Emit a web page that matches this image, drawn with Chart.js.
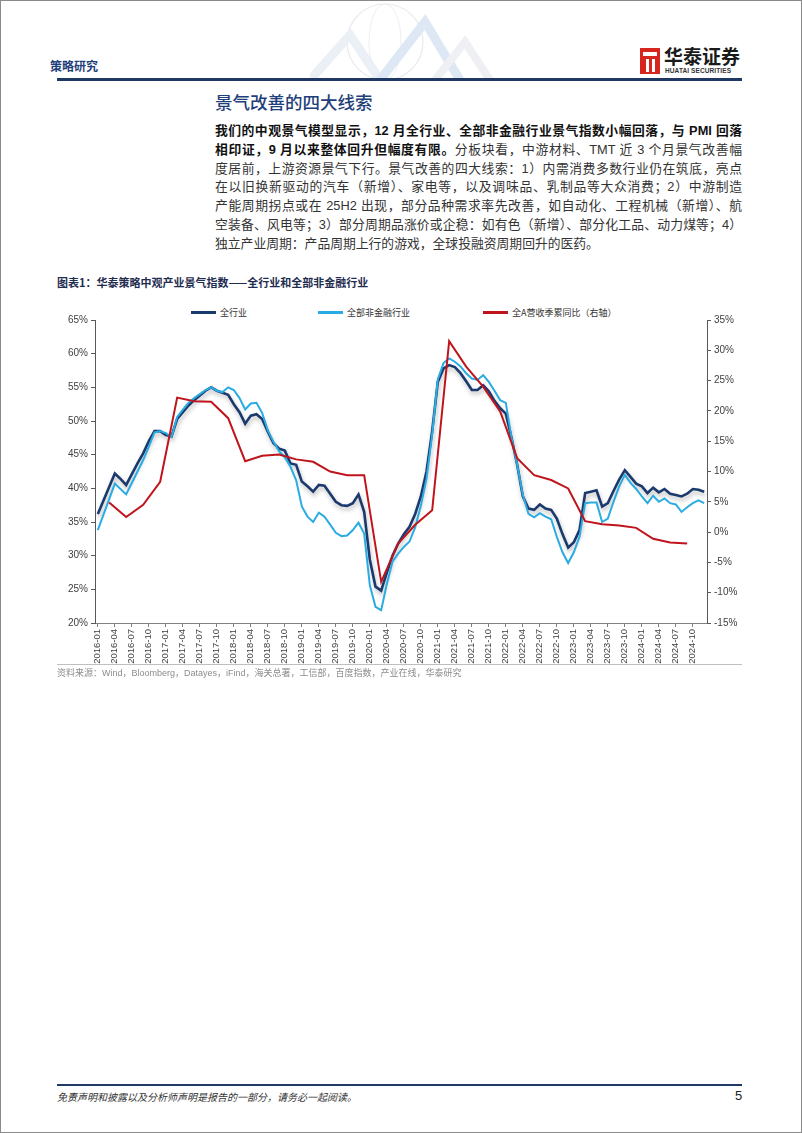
<!DOCTYPE html>
<html>
<head>
<meta charset="utf-8">
<script src="https://cdn.jsdelivr.net/npm/chart.js@4"></script>
<style>
    html, body { margin: 0; padding: 0; background: #fff; }
    body { width: 802px; height: 1133px; position: relative; overflow: hidden; font-family: "Liberation Sans", "Noto Sans CJK SC", sans-serif; }
    .frame { position: absolute; left: 0; top: 0; width: 800px; height: 1131px; border: 1px solid #8a8a8a; }
    .abs { position: absolute; white-space: nowrap; }
    .para { position: absolute; left: 215px; top: 122px; width: 527px; font-size: 12.8px; color: #333; }
    .para div { height: 18.8px; line-height: 18.8px; text-align: justify; text-align-last: justify; white-space: nowrap; }
    .para div.last { text-align-last: left; }
    .para b { color: #111; font-weight: 700; }
    .lg { position: absolute; top: 308px; font-size: 9px; color: #333; line-height: 10px; white-space: nowrap; font-family: "Noto Sans CJK SC", sans-serif; }
    .lg i { display: inline-block; width: 25px; height: 3px; vertical-align: middle; margin-right: 4px; position: relative; top: -1px; }
</style>
</head>
<body>
<div class="frame"></div>

<!-- header -->
<svg class="abs" style="left:310px;top:0px" width="190" height="80" opacity="0.7">
    <circle cx="75" cy="42" r="38" fill="none" stroke="#dde1e8" stroke-width="1.2"/>
    <ellipse cx="75" cy="42" rx="16" ry="38" fill="none" stroke="#e6e9ef" stroke-width="1"/>
    <polyline points="0,80 40,35 70,80" fill="none" stroke="#e3eaf3" stroke-width="9"/>
    <polyline points="70,80 115,22 150,80" fill="none" stroke="#cfdff0" stroke-width="9"/>
    <polyline points="125,80 155,42 180,80" fill="none" stroke="#e8ebf0" stroke-width="8"/>
</svg>
<div class="abs" style="left:50px;top:57px;font-size:12px;font-weight:700;color:#1F3F7A;font-family:'Noto Sans CJK SC'">策略研究</div>
<div class="abs" style="left:640px;top:48px;width:20px;height:26px;background:#D7261E;"></div>
<div class="abs" style="left:643px;top:52px;width:14px;height:4px;background:#fff;"></div>
<div class="abs" style="left:646px;top:59px;width:3px;height:13px;background:#fff;"></div>
<div class="abs" style="left:652px;top:59px;width:3px;height:13px;background:#fff;"></div>
<div class="abs" style="left:664px;top:45px;font-size:19px;font-weight:700;color:#1a1a1a;font-family:'Noto Sans CJK SC';line-height:22px">华泰证券</div>
<div class="abs" style="left:665px;top:67px;font-size:6.5px;font-weight:700;color:#333;letter-spacing:0.1px">HUATAI SECURITIES</div>
<div class="abs" style="left:57px;top:78px;width:685px;height:3px;background:#1F3864;"></div>

<!-- section -->
<div class="abs" style="left:215px;top:90px;font-size:17.5px;color:#1F3F7A;font-weight:500;font-family:'Noto Sans CJK SC';line-height:24px">景气改善的四大线索</div>
<div class="para">
    <div><b>我们的中观景气模型显示，12 月全行业、全部非金融行业景气指数小幅回落，与 PMI 回落</b></div>
    <div><b>相印证，9 月以来整体回升但幅度有限。</b>分板块看，中游材料、TMT 近 3 个月景气改善幅</div>
    <div>度居前，上游资源景气下行。景气改善的四大线索：1）内需消费多数行业仍在筑底，亮点</div>
    <div>在以旧换新驱动的汽车（新增）、家电等，以及调味品、乳制品等大众消费；2）中游制造</div>
    <div>产能周期拐点或在 25H2 出现，部分品种需求率先改善，如自动化、工程机械（新增）、航</div>
    <div>空装备、风电等；3）部分周期品涨价或企稳：如有色（新增）、部分化工品、动力煤等；4）</div>
    <div class="last">独立产业周期：产品周期上行的游戏，全球投融资周期回升的医药。</div>
</div>

<!-- chart -->
<div class="abs" style="left:57px;top:275px;font-size:11px;font-weight:700;color:#1F2D50;font-family:'Noto Sans CJK SC';line-height:14px">图表1：华泰策略中观产业景气指数——全行业和全部非金融行业</div>
<div class="lg" style="left:191px"><i style="background:#1A3A6E"></i>全行业</div>
<div class="lg" style="left:318px"><i style="background:#2AACE2"></i>全部非金融行业</div>
<div class="lg" style="left:483px"><i style="background:#C0141C"></i>全A营收季累同比（右轴）</div>
<div class="abs" style="left:50px;top:300px;width:700px;height:370px">
    <canvas id="chart" width="700" height="370"></canvas>
</div>
<div class="abs" style="left:57px;top:664px;width:685px;height:1px;background:#bfbfbf;"></div>
<div class="abs" style="left:57px;top:667px;font-size:9px;color:#8c8c8c;line-height:12px">资料来源：Wind，Bloomberg，Datayes，iFind，海关总署，工信部，百度指数，产业在线，华泰研究</div>

<!-- footer -->
<div class="abs" style="left:57px;top:1084px;width:685px;height:2px;background:#1F3864;"></div>
<div class="abs" style="left:57px;top:1090px;font-size:10px;font-style:italic;color:#333;line-height:14px;font-family:'Noto Sans CJK SC'">免责声明和披露以及分析师声明是报告的一部分，请务必一起阅读。</div>
<div class="abs" style="left:735px;top:1088px;font-size:13px;color:#222;line-height:16px">5</div>

<script>
// monthly categories 2016-01 .. 2024-12
const months = [];
for (let y = 2016; y <= 2024; y++)
{
    for (let m = 1; m <= 12; m++)
    {
        months.push(y + "-" + String(m).padStart(2, "0"));
    }
}

// 全行业 (left axis, %)
const allIndustry = [
    36.2, 38.2, 40.2, 42.2, 41.4, 40.5, 42.1, 43.7, 45.2, 47.0, 48.5, 48.5,
    47.9, 47.7, 50.3, 51.3, 52.3, 53.1, 53.8, 54.5, 55.0, 54.5, 54.2, 53.9,
    52.5, 51.3, 49.6, 50.8, 51.0, 50.3, 48.4, 46.7, 45.9, 45.6, 43.7, 43.5,
    41.0, 40.3, 39.5, 40.5, 40.4, 39.2, 38.0, 37.5, 37.4, 37.8, 39.1, 36.5,
    29.4, 25.4, 24.8, 27.5, 30.0, 31.8, 33.2, 34.3, 36.2, 38.8, 42.5, 48.5,
    55.8, 57.8, 58.3, 58.0, 57.1, 55.9, 54.6, 54.6, 55.3, 54.4, 53.0, 51.9,
    51.1, 47.5, 43.5, 38.8, 37.0, 36.8, 37.6, 37.0, 36.8, 35.5, 33.2, 31.2,
    32.0, 33.8, 39.3, 39.5, 39.7, 37.3, 37.8, 39.6, 41.3, 42.7, 41.7, 40.7,
    40.3, 39.3, 40.1, 39.4, 39.9, 39.2, 39.0, 38.8, 39.2, 39.9, 39.8, 39.5
];

// 全部非金融行业 (left axis, %)
const nonFinancial = [
    33.8, 36.1, 38.4, 40.7, 39.9, 39.1, 40.8, 42.5, 44.2, 46.2, 48.3, 48.5,
    48.2, 47.6, 50.6, 51.7, 52.7, 53.4, 54.0, 54.6, 55.0, 54.5, 54.3, 55.0,
    54.6, 53.4, 51.7, 52.6, 52.7, 51.2, 48.6, 46.9, 45.5, 44.6, 43.2, 41.2,
    37.3, 35.8, 35.0, 36.4, 35.8, 34.6, 33.4, 32.9, 33.0, 33.8, 34.9, 33.3,
    25.6, 22.4, 21.9, 25.8, 29.1, 30.3, 31.3, 32.1, 34.2, 37.4, 41.4, 48.0,
    56.2, 58.6, 59.3, 58.8, 58.1, 57.1, 56.3, 56.1, 56.8, 55.8, 54.5, 53.1,
    52.7, 47.5, 43.5, 39.0, 36.2, 35.7, 36.3, 35.8, 35.4, 32.8, 30.5, 28.9,
    30.5, 32.8, 37.8, 37.9, 37.9, 35.0, 35.5, 38.0, 40.3, 42.0, 40.8, 39.9,
    38.8, 37.8, 38.9, 38.0, 38.5, 37.8, 37.6, 36.5, 37.2, 37.8, 38.2, 37.8
];

// 全A营收季累同比 (right axis, %), quarter ends from 2016-03 to 2024-09
const revenueQuarters = [
    "2016-03", "2016-06", "2016-09", "2016-12",
    "2017-03", "2017-06", "2017-09", "2017-12",
    "2018-03", "2018-06", "2018-09", "2018-12",
    "2019-03", "2019-06", "2019-09", "2019-12",
    "2020-03", "2020-06", "2020-09", "2020-12",
    "2021-03", "2021-06", "2021-09", "2021-12",
    "2022-03", "2022-06", "2022-09", "2022-12",
    "2023-03", "2023-06", "2023-09", "2023-12",
    "2024-03", "2024-06", "2024-09"
];
const revenueYoY = [
    4.9, 2.5, 4.5, 8.3,
    22.2, 21.6, 21.5, 18.8,
    11.7, 12.6, 12.8, 12.0,
    11.6, 10.0, 9.4, 9.4,
    -8.2, -1.9, 1.2, 3.6,
    31.5, 27.3, 24.0, 19.9,
    12.2, 9.4, 8.6, 7.2,
    1.8, 1.3, 1.1, 0.7,
    -1.1, -1.7, -1.9
];

const revenuePoints = revenueQuarters.map((q, i) => ({ x: q, y: revenueYoY[i] }));

const tickFont = { family: "'Liberation Sans', Arial, sans-serif", size: 10 };

// soft shadow under the 全行业 line
const shadowPlugin = {
    id: "lineShadow",
    beforeDatasetDraw(chart, args)
    {
        if (args.index !== 0) return;
        const ctx = chart.ctx;
        ctx.save();
        ctx.shadowColor = "rgba(60,60,60,0.35)";
        ctx.shadowBlur = 4;
        ctx.shadowOffsetX = 1;
        ctx.shadowOffsetY = 3;
    },
    afterDatasetDraw(chart, args)
    {
        if (args.index !== 0) return;
        chart.ctx.restore();
    }
};

new Chart(document.getElementById("chart"), {
    type: "line",
    data: {
        labels: months,
        datasets: [
            {
                label: "全行业",
                data: allIndustry,
                borderColor: "#1A3A6E",
                borderWidth: 2.6,
                pointRadius: 0,
                tension: 0,
                yAxisID: "y",
                order: 3
            },
            {
                label: "全部非金融行业",
                data: nonFinancial,
                borderColor: "#2AACE2",
                borderWidth: 2,
                pointRadius: 0,
                tension: 0,
                yAxisID: "y",
                order: 2
            },
            {
                label: "全A营收季累同比（右轴）",
                data: revenuePoints,
                borderColor: "#C0141C",
                borderWidth: 2,
                pointRadius: 0,
                tension: 0,
                spanGaps: true,
                yAxisID: "y1",
                order: 1
            }
        ]
    },
    options: {
        responsive: false,
        animation: false,
        devicePixelRatio: 1,
        layout: { padding: { top: 20, left: 0, right: 0, bottom: 0 } },
        plugins: {
            legend: { display: false },
            tooltip: { enabled: false }
        },
        scales: {
            x: {
                type: "category",
                offset: true,
                grid: { display: true, drawOnChartArea: false, drawTicks: true, tickLength: 4, color: "#808080" },
                border: { color: "#808080", width: 1 },
                ticks: {
                    autoSkip: false,
                    minRotation: 90,
                    maxRotation: 90,
                    padding: 2,
                    color: "#404040",
                    font: { family: tickFont.family, size: 9.5 },
                    callback: (v, i) => (i % 3 === 0 ? months[i] : null)
                },
                afterFit: s => { s.height = 47; }
            },
            y: {
                position: "left",
                min: 20,
                max: 65,
                grid: { display: true, drawOnChartArea: false, drawTicks: true, tickLength: 4, color: "#595959" },
                border: { color: "#595959", width: 1 },
                ticks: { stepSize: 5, padding: 3, color: "#404040", font: tickFont, callback: v => v + "%" },
                afterFit: s => { s.width = 45; }
            },
            y1: {
                position: "right",
                min: -15,
                max: 35,
                grid: { display: true, drawOnChartArea: false, drawTicks: true, tickLength: 4, color: "#595959" },
                border: { color: "#595959", width: 1 },
                ticks: { stepSize: 5, padding: 3, color: "#404040", font: tickFont, callback: v => v + "%" },
                afterFit: s => { s.width = 43; }
            }
        }
    },
    plugins: [shadowPlugin]
});
</script>
</body>
</html>
